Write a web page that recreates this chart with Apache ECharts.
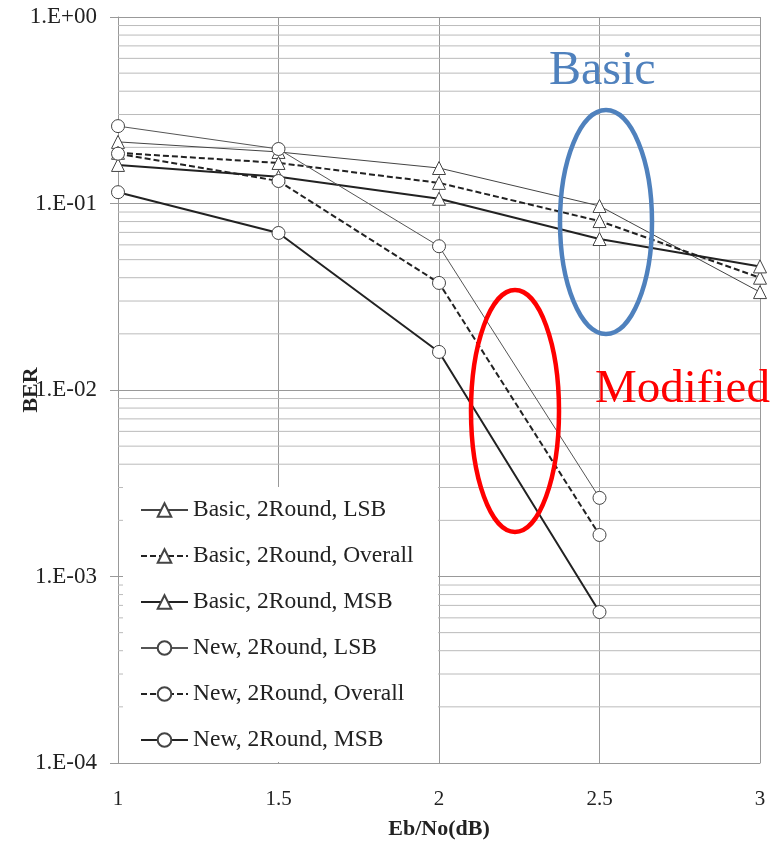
<!DOCTYPE html>
<html><head><meta charset="utf-8">
<script src="https://cdn.jsdelivr.net/npm/echarts@6/dist/echarts.min.js"></script>
<style>html,body{margin:0;padding:0;background:#fff}#c{width:783px;height:847px}</style>
</head><body><div id="c"></div>
<script>
const xValues = [1, 1.5, 2, 2.5, 3];
const basicLSB = [0.214, 0.189, 0.155, 0.097, 0.0335];
const basicOverall = [0.187, 0.165, 0.129, 0.0805, 0.040];
const basicMSB = [0.161, 0.139, 0.106, 0.0645, 0.046];
const newLSB = [0.26, 0.196, 0.059, 0.00264];
const newOverall = [0.185, 0.132, 0.0375, 0.00167];
const newMSB = [0.115, 0.0695, 0.016, 0.000645];
const seriesNames = ['Basic, 2Round, LSB','Basic, 2Round, Overall','Basic, 2Round, MSB','New, 2Round, LSB','New, 2Round, Overall','New, 2Round, MSB'];
const minorMultipliers = [2, 3, 4, 5, 6, 7, 8, 9];
const decades = [1e-4, 1e-3, 1e-2, 1e-1];

const FONT = '"Liberation Serif", "DejaVu Serif", serif';
const chart = echarts.init(document.getElementById('c'));
function pairs(vals){ return vals.map((v,i)=>[xValues[i], v]); }
function mk(name, vals, sym, width, color, dashed, size){
  return {name, type:'line', data:pairs(vals), symbol:sym, symbolSize:size,
    lineStyle:{width, color, type: dashed ? [6,3] : 'solid'},
    itemStyle:{color:'#fff', borderColor:'#444', borderWidth:1},
    z: 3};
}
const series = [
  mk(seriesNames[0], basicLSB, 'triangle', 1, '#444', false, 13),
  mk(seriesNames[1], basicOverall, 'triangle', 2, '#222', true, 13),
  mk(seriesNames[2], basicMSB, 'triangle', 2, '#222', false, 13),
  mk(seriesNames[3], newLSB, 'circle', 1, '#555', false, 13),
  mk(seriesNames[4], newOverall, 'circle', 2, '#222', true, 13),
  mk(seriesNames[5], newMSB, 'circle', 2, '#222', false, 13)
];
let gi = 0;
decades.forEach(d => minorMultipliers.forEach(m => {
  const v = +(m * d).toPrecision(3);
  series.push({name:'grid'+(gi++), type:'line', data:[[1, v],[3, v]], symbol:'none', silent:true,
    lineStyle:{color:'#bbb', width:1}, z:0});
}));
chart.setOption({
  animation:false,
  backgroundColor:'#fff',
  grid:{left:118, right:23, top:17, bottom:84, containLabel:false, outerBoundsMode:'none'},
  xAxis:{type:'value', min:1, max:3, interval:0.5,
    name:'Eb/No(dB)', nameLocation:'middle', nameGap:55,
    nameTextStyle:{fontFamily:FONT, fontWeight:'bold', fontSize:22, color:'#222'},
    axisLine:{lineStyle:{color:'#999'}}, axisTick:{show:false},
    axisLabel:{fontFamily:FONT, fontSize:21, color:'#222', margin:26},
    splitLine:{show:true, lineStyle:{color:'#999'}}},
  yAxis:{type:'log', logBase:10, min:1e-4, max:1,
    name:'BER', nameLocation:'middle', nameGap:76, nameRotate:90, nameMoveOverlap:false,
    nameTextStyle:{fontFamily:FONT, fontWeight:'bold', fontSize:22, color:'#222'},
    axisLine:{show:true, lineStyle:{color:'#999'}},
    axisTick:{show:true, length:8, inside:false, lineStyle:{color:'#999'}},
    axisLabel:{fontFamily:FONT, fontSize:23, color:'#222', margin:21,
      formatter:v=>{const e=Math.round(Math.log10(v)); return '1.E'+(e>=0?'+':'-')+String(Math.abs(e)).padStart(2,'0');}},
    splitLine:{show:true, lineStyle:{color:'#999'}}},
  legend:{data:seriesNames, orient:'vertical', left:140, top:498,
    padding:0, itemGap:22, itemWidth:47, itemHeight:17,
    textStyle:{fontFamily:FONT, fontSize:23.5, color:'#222'}},
  graphic:[
    {type:'rect', shape:{x:123, y:487, width:315, height:275}, style:{fill:'#fff'}, z:1, silent:true},
    {type:'ellipse', shape:{cx:606, cy:222, rx:46, ry:112}, style:{fill:'none', stroke:'#4f81bd', lineWidth:4.5}, z:10},
    {type:'ellipse', shape:{cx:515, cy:411, rx:44, ry:121}, style:{fill:'none', stroke:'#ff0000', lineWidth:4.5}, z:10},
    {type:'text', left:549, top:47, style:{text:'Basic', fill:'#4f81bd', font:'48px '+FONT}, z:10},
    {type:'text', left:595, top:366, style:{text:'Modified', fill:'#ff0000', font:'47px '+FONT}, z:10}
  ],
  series
});
</script></body></html>
